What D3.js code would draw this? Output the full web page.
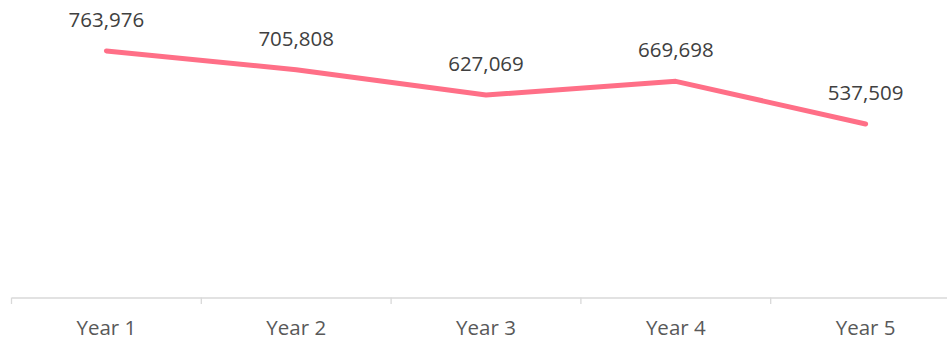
<!DOCTYPE html>
<html>
<head>
<meta charset="utf-8">
<script src="https://cdn.jsdelivr.net/npm/d3@7"></script>
<style>
  html, body { margin: 0; padding: 0; background: #fff; overflow: hidden; }
  svg { display: block; }
</style>
</head>
<body>
<svg id="chart" width="947" height="341"></svg>
<script>
// Yearly totals
const years = ["Year 1", "Year 2", "Year 3", "Year 4", "Year 5"];
const totals = [763976, 705808, 627069, 669698, 537509];

const svg = d3.select("#chart");
const fontFamily = "'Open Sans', 'Noto Sans', sans-serif";

const x = d3.scaleBand().domain(years).range([11.5, 960.5]).padding(0);
const y = d3.scaleLinear().domain([0, 900000]).range([297.5, 7]);

// Category axis along the baseline
const axis = d3.axisBottom(x).tickSize(0).tickFormat(d => d);
const gx = svg.append("g").attr("transform", "translate(0,297.5)").call(axis);
gx.select(".domain").attr("stroke", "#d9d9d9").attr("stroke-width", 1.3);
gx.selectAll(".tick text")
  .attr("y", 0)
  .attr("dy", 0)
  .attr("transform", "translate(0,37.5)")
  .attr("fill", "#595959")
  .style("font-family", fontFamily)
  .style("font-size", "20.5px");

// Boundary tick marks between categories
const boundaries = years.map(d => x(d)).concat([x(years[years.length - 1]) + x.bandwidth()]);
svg.append("g").selectAll("line").data(boundaries).join("line")
  .attr("x1", d => d).attr("x2", d => d)
  .attr("y1", 297.5).attr("y2", 304)
  .attr("stroke", "#d9d9d9").attr("stroke-width", 1.3);

const cx = d => x(d) + x.bandwidth() / 2;

const line = d3.line()
  .x((d, i) => cx(years[i]))
  .y(d => y(d));

svg.append("path")
  .datum(totals)
  .attr("d", line)
  .attr("fill", "none")
  .attr("stroke", "#ff6f87")
  .attr("stroke-width", 5)
  .attr("stroke-linecap", "round")
  .attr("stroke-linejoin", "round");

// Value labels above each point
const fmt = d3.format(",");
svg.append("g").selectAll("text").data(totals).join("text")
  .attr("x", (d, i) => cx(years[i]))
  .attr("y", d => y(d) - 24)
  .attr("text-anchor", "middle")
  .attr("fill", "#404040")
  .style("font-family", fontFamily)
  .style("font-size", "20.5px")
  .text(d => fmt(d));
</script>
</body>
</html>
